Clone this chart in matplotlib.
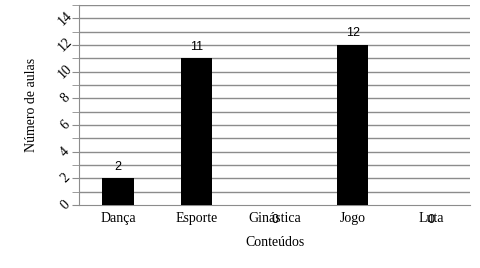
import matplotlib
matplotlib.use("Agg")
from matplotlib import pyplot as plt
import numpy as np

conteudos = ["Dança", "Esporte", "Ginástica", "Jogo", "Luta"]
aulas = [2, 11, 0, 12, 0]
yticks = [0, 2, 4, 6, 8, 10, 12, 14]

plt.rcParams["font.family"] = "Liberation Serif"

fig = plt.figure(figsize=(4.8, 2.68), dpi=100)
ax = fig.add_axes([79 / 480, 1 - 205 / 268, 391 / 480, 200 / 268])

x = np.arange(len(conteudos))
ax.bar(x, aulas, width=0.4, color="black", zorder=3)

# every unit gets a grid line, only even ones are labelled
for v in range(1, 16):
    ax.axhline(v, color="#8c8c8c", lw=1, zorder=1)

for i, v in enumerate(aulas):
    off = 4 if v > 0 else -15
    ax.annotate(str(v), (x[i], v), xytext=(0, off), textcoords="offset points",
                ha="center", va="bottom", fontsize=9, family="Liberation Sans")

ax.set_xlim(-0.5, len(conteudos) - 0.5)
ax.set_ylim(0, 15)
ax.set_xticks(x)
ax.set_xticklabels(conteudos, fontsize=10)
ax.set_yticks(yticks)
ax.set_yticks(range(0, 16), minor=True)
ax.set_yticklabels([str(t) for t in yticks], fontsize=10, rotation=45,
                   rotation_mode="anchor", ha="center", va="center")
ax.tick_params(axis="x", length=0, pad=5)
ax.tick_params(axis="y", which="both", length=5, color="#8c8c8c", pad=5)

for s in ["top", "right"]:
    ax.spines[s].set_visible(False)
ax.spines["left"].set_color("#8c8c8c")
ax.spines["bottom"].set_color("#8c8c8c")

ax.set_xlabel("Conteúdos", fontsize=10, labelpad=8)
ax.set_ylabel("Número de aulas", fontsize=10, labelpad=13)

fig.savefig("out.png", dpi=100)
